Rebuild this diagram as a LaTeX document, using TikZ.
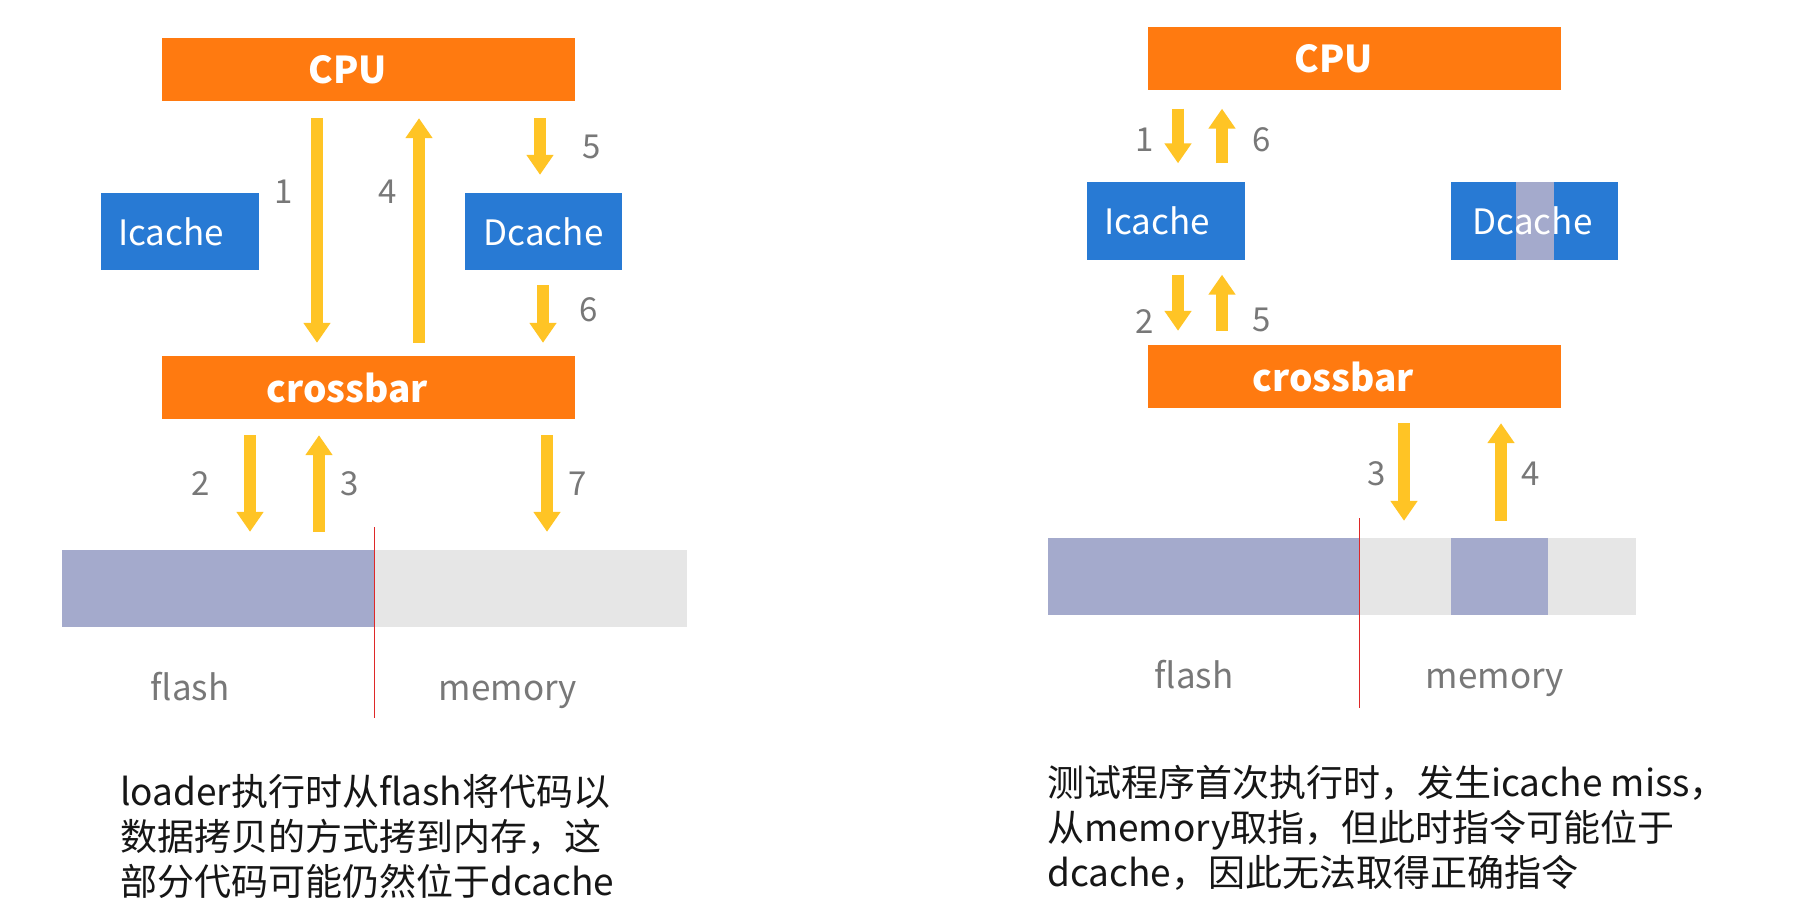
\documentclass[tikz,border=0pt]{standalone}
\usepackage{fontspec}
\setmainfont{Noto Sans CJK SC}
\usetikzlibrary{arrows.meta,calc,positioning}

\definecolor{busorange}{RGB}{255,122,16}
\definecolor{cacheblue}{RGB}{40,122,212}
\definecolor{flowyellow}{RGB}{255,196,37}
\definecolor{codepurple}{RGB}{164,170,204}
\definecolor{emptygray}{RGB}{230,230,230}
\definecolor{splitred}{RGB}{222,40,40}
\definecolor{numgray}{RGB}{120,120,120}
\definecolor{textblack}{RGB}{22,22,22}

\begin{document}
\begin{tikzpicture}[
  x=1pt, y=-1pt,
  bus/.style={fill=busorange, text=white, inner sep=0pt, minimum width=413pt,
              minimum height=63pt, font=\fontsize{37}{40}\selectfont\bfseries,
              execute at end node=\hspace*{42pt}},
  cache/.style={fill=cacheblue, text=white, inner sep=0pt, minimum height=77pt,
                font=\fontsize{35}{40}\selectfont},
  lpad/.style={execute at end node=\hspace*{18pt}},
  seg/.style={inner sep=0pt, minimum height=77pt},
  flow/.style={draw=flowyellow, line width=12pt,
               -{Triangle[length=20pt,width=26pt]}},
  num/.style={text=numgray, inner sep=0pt, font=\fontsize{33}{36}\selectfont},
  area/.style={text=numgray, inner sep=0pt, text height=26pt, text depth=0pt,
               font=\fontsize{35}{38}\selectfont},
  split/.style={draw=splitred, line width=1pt},
  note/.style={text=textblack, inner sep=0pt, align=left, anchor=north west,
               font=\fontsize{37}{45}\selectfont},
]
\useasboundingbox (0,0) rectangle (1803,920);
\fill[white] (0,0) rectangle (1803,920);

% ======================= left: loader copies code =======================
\node[bus] (cpuL) at (368.5,69.5) {CPU};
\node[cache, lpad, minimum width=158pt] (icL) at (180,231.5) {Icache};
\node[cache, minimum width=157pt] (dcL) at (543.5,231.5) {Dcache};
\node[bus] (xbL) at (368.5,387.5) {crossbar};

% memory bar
\node[seg, fill=codepurple, minimum width=312pt] (flL) at (218,588.5) {};
\node[seg, fill=emptygray, minimum width=313pt] (mmL) at (530.5,588.5) {};
\coordinate (spLt) at (374,527);
\coordinate (spLb) at (374,718);
\draw[split] (spLt) -- (spLb);
\node[area] (flashL) at (190,687) {flash};
\node[area] (memL) at (508,687) {memory};

% arrow columns
\coordinate (cL1) at (317,0);
\coordinate (cL4) at (419,0);
\coordinate (cL5) at (540,0);
\coordinate (cL6) at (543,0);
\coordinate (cL2) at (250,0);
\coordinate (cL3) at (319,0);
\coordinate (cL7) at (547,0);

\draw[flow, shorten <=17pt, shorten >=13pt] (cpuL.south -| cL1) -- (xbL.north -| cL1);
\draw[flow, shorten <=13pt, shorten >=17pt] (xbL.north -| cL4) -- (cpuL.south -| cL4);
\draw[flow, shorten <=17pt, shorten >=18pt] (cpuL.south -| cL5) -- (dcL.north -| cL5);
\draw[flow, shorten <=15pt, shorten >=13pt] (dcL.south -| cL6) -- (xbL.north -| cL6);
\draw[flow, shorten <=16pt, shorten >=18pt] (xbL.south -| cL2) -- (flL.north -| cL2);
\draw[flow, shorten <=18pt, shorten >=16pt] (flL.north -| cL3) -- (xbL.south -| cL3);
\draw[flow, shorten <=16pt, shorten >=18pt] (xbL.south -| cL7) -- (mmL.north -| cL7);

\node[num] (nL1) at (284,192) {1};
\node[num] (nL4) at (388,192) {4};
\node[num] (nL5) at (592,147) {5};
\node[num] (nL6) at (589,310) {6};
\node[num] (nL2) at (201,484) {2};
\node[num] (nL3) at (350,484) {3};
\node[num] (nL7) at (578,484) {7};

\node[note] (txtL) at (120,774)
  {loader执行时从flash将代码以\\数据拷贝的方式拷到内存，这\\部分代码可能仍然位于dcache};

% ======================= right: icache miss =======================
\node[bus] (cpuR) at (1354.5,59) {CPU};
\node[cache, lpad, minimum width=158pt] (icR) at (1166,221) {Icache};
\node[cache, minimum width=167pt, execute at end node=\hspace*{4pt}, path picture={
    \fill[codepurple] ([xshift=-19pt]path picture bounding box.north)
      rectangle ([xshift=19pt]path picture bounding box.south);}]
  (dcR) at (1534.5,221) {Dcache};
\node[bus] (xbR) at (1354.5,376.5) {crossbar};

% memory bar
\node[seg, fill=codepurple, minimum width=311pt] (flR) at (1203.5,576.5) {};
\node[seg, fill=emptygray, minimum width=92pt] (mmR1) at (1405,576.5) {};
\node[seg, fill=codepurple, minimum width=97pt] (mmR2) at (1499.5,576.5) {};
\node[seg, fill=emptygray, minimum width=88pt] (mmR3) at (1592,576.5) {};
\coordinate (spRt) at (1359,518);
\coordinate (spRb) at (1359,708);
\draw[split] (spRt) -- (spRb);
\node[area] (flashR) at (1194,675) {flash};
\node[area] (memR) at (1495,675) {memory};

% arrow columns
\coordinate (cRd) at (1178,0);
\coordinate (cRu) at (1222,0);
\coordinate (cR3) at (1404,0);
\coordinate (cR4) at (1501,0);

\draw[flow, shorten <=18pt, shorten >=19pt] (cpuR.south -| cRd) -- (icR.north -| cRd);
\draw[flow, shorten <=19pt, shorten >=18pt] (icR.north -| cRu) -- (cpuR.south -| cRu);
\draw[flow, shorten <=15pt, shorten >=14pt] (icR.south -| cRd) -- (xbR.north -| cRd);
\draw[flow, shorten <=14pt, shorten >=15pt] (xbR.north -| cRu) -- (icR.south -| cRu);
\draw[flow, shorten <=15pt, shorten >=17pt] (xbR.south -| cR3) -- (mmR1.north -| cR3);
\draw[flow, shorten <=17pt, shorten >=15pt] (mmR2.north -| cR4) -- (xbR.south -| cR4);

\node[num] (nR1) at (1145,140) {1};
\node[num] (nR6) at (1262,140) {6};
\node[num] (nR2) at (1145,322) {2};
\node[num] (nR5) at (1262,320) {5};
\node[num] (nR3) at (1377,474) {3};
\node[num] (nR4) at (1531,474) {4};

\node[note] (txtR) at (1047,765)
  {测试程序首次执行时，发生icache miss，\\从memory取指，但此时指令可能位于\\dcache，因此无法取得正确指令};
\end{tikzpicture}
\end{document}
